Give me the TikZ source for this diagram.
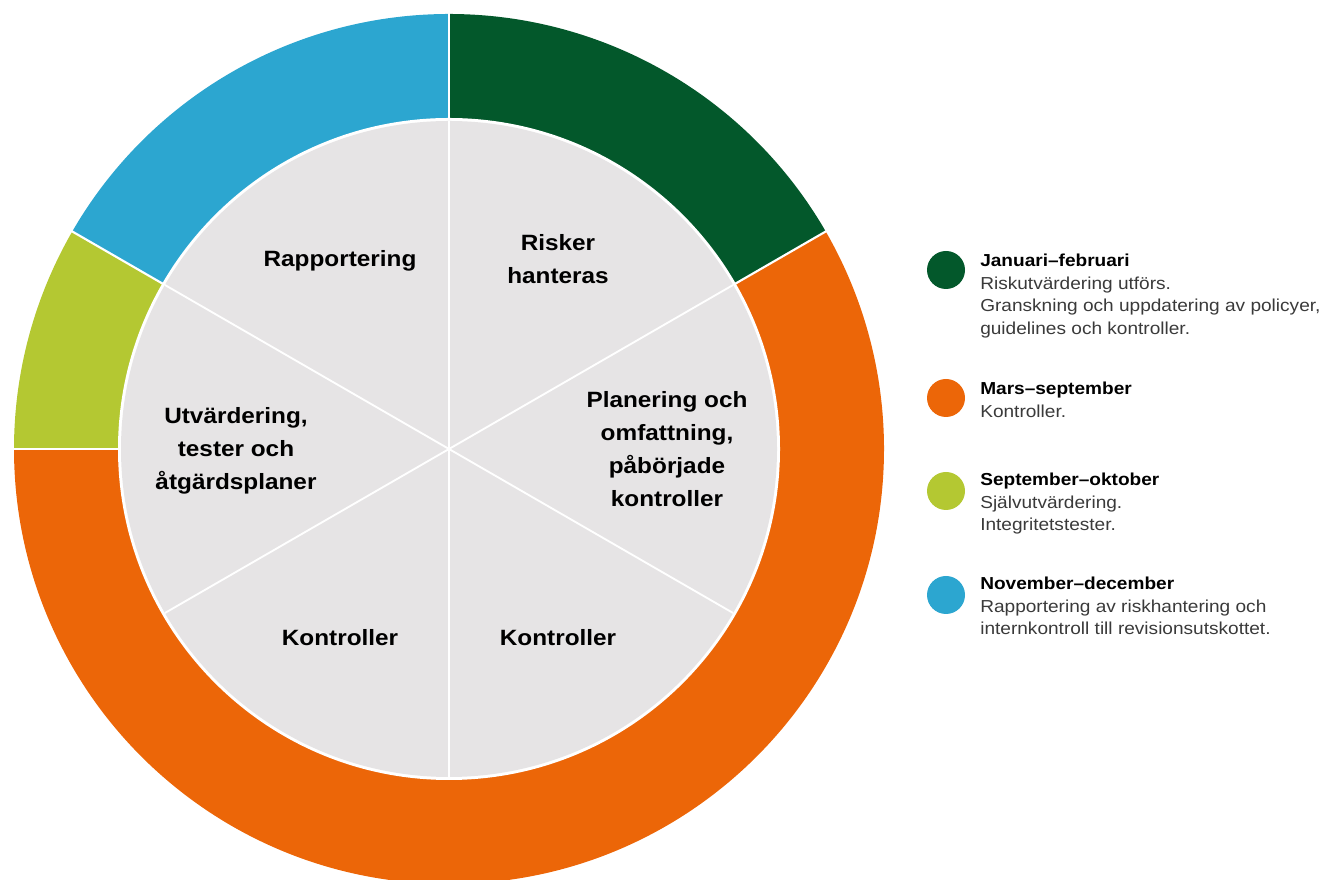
\documentclass[tikz,border=0pt]{standalone}
\usepackage{fontspec}
\setmainfont{Liberation Sans}[FakeStretch=1.1]
\definecolor{januari}{HTML}{03582B}
\definecolor{mars}{HTML}{EC6608}
\definecolor{september}{HTML}{B4C832}
\definecolor{november}{HTML}{2CA6D0}
\definecolor{disc}{HTML}{E6E4E5}
\definecolor{bodytext}{HTML}{3A3A3A}

\begin{document}
\begin{tikzpicture}[x=0.75pt, y=0.75pt]
    \useasboundingbox (0, 0) rectangle (1326, 880);
    \coordinate (c) at (449, 431);

    % outer ring
    \fill[januari] (c) -- ++(30:435) arc[start angle=30, end angle=90, radius=435] -- cycle;
    \fill[november] (c) -- ++(90:435) arc[start angle=90, end angle=150, radius=435] -- cycle;
    \fill[september] (c) -- ++(150:435) arc[start angle=150, end angle=180, radius=435] -- cycle;
    \fill[mars] (c) -- ++(180:435) arc[start angle=180, end angle=390, radius=435] -- cycle;
    \foreach \a in {30, 90, 150, 180}
      \draw[white, line width=1.6pt] (c) -- ++(\a:437);

    % inner disc
    \fill[white] (c) circle[radius=331];
    \fill[disc] (c) circle[radius=328];
    \foreach \a in {30, 90, ..., 330}
      \draw[white, line width=1.4pt] (c) -- ++(\a:328);

    \begin{scope}[every node/.style={align=center, font=\bfseries\fontsize{16.6}{24.75}\selectfont}]
      \node (risker) at (558, 621) {Risker\\hanteras};
      \node (rapport) at (340, 619) {Rapportering};
      \node (planering) at (667, 431) {Planering och\\omfattning,\\påbörjade\\kontroller};
      \node (utvardering) at (236, 429) {Utvärdering,\\tester och\\åtgärdsplaner};
      \node (kontrollL) at (340, 242) {Kontroller};
      \node (kontrollR) at (558, 242) {Kontroller};
    \end{scope}

    % legend
    \begin{scope}[every node/.style={circle, minimum size=28.5pt, inner sep=0}]
      \node[fill=januari] (dot1) at (946, 610) {};
      \node[fill=mars] (dot2) at (946, 482) {};
      \node[fill=september] (dot3) at (946, 389) {};
      \node[fill=november] (dot4) at (946, 285) {};
    \end{scope}
    \begin{scope}[every node/.style={anchor=north west, align=left, inner sep=0, text=bodytext,
        font=\fontsize{13}{16.9}\selectfont}]
      \node (leg1) at (980, 626) {\textcolor{black}{\textbf{Januari–februari}}\\Riskutvärdering utförs.\\Granskning och uppdatering av policyer,\\guidelines och kontroller.};
      \node (leg2) at (980, 498) {\textcolor{black}{\textbf{Mars–september}}\\Kontroller.};
      \node (leg3) at (980, 407) {\textcolor{black}{\textbf{September–oktober}}\\Självutvärdering.\\Integritetstester.};
      \node (leg4) at (980, 303) {\textcolor{black}{\textbf{November–december}}\\Rapportering av riskhantering och\\internkontroll till revisionsutskottet.};
    \end{scope}
\end{tikzpicture}
\end{document}
